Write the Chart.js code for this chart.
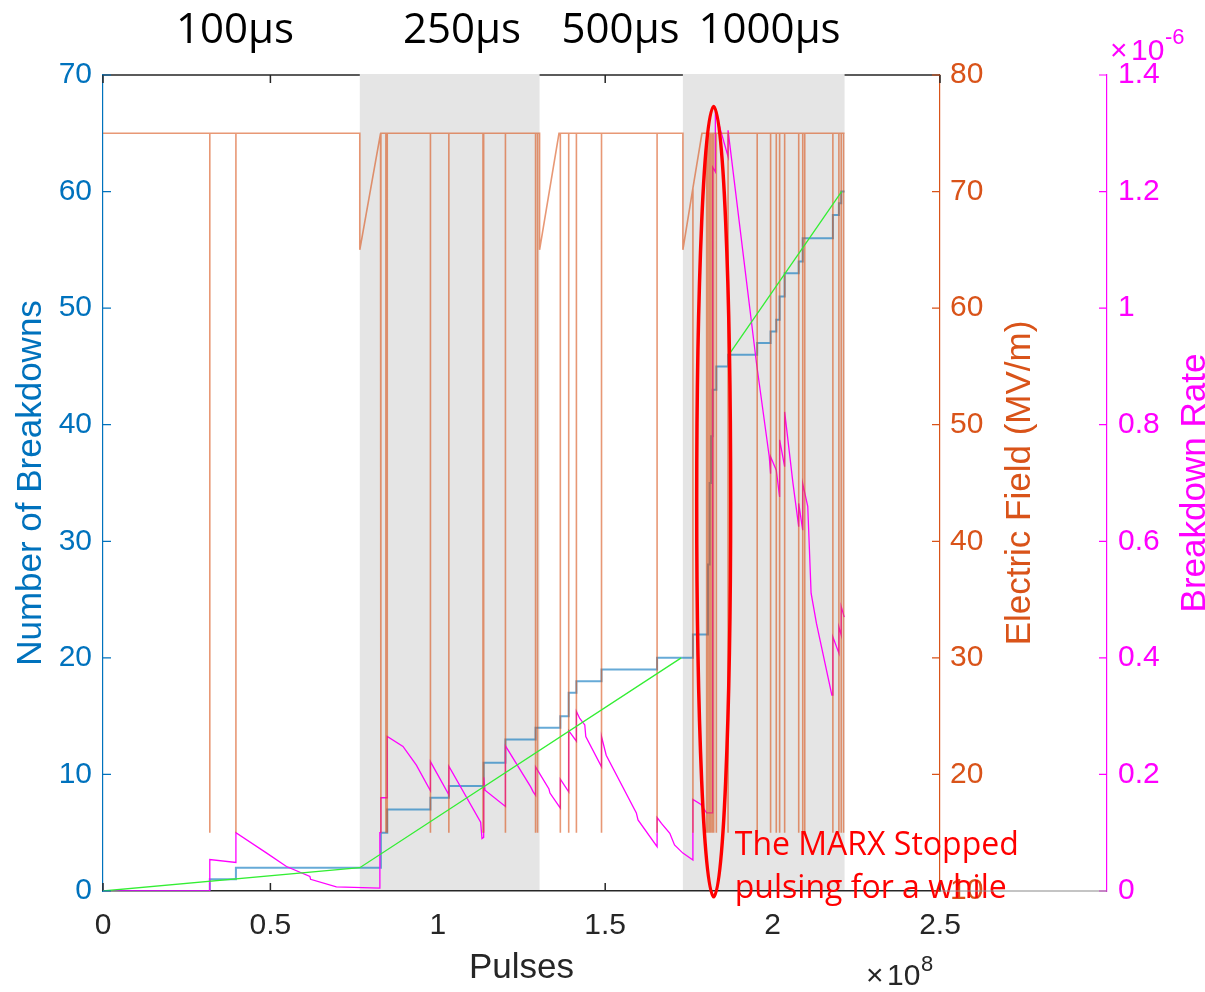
<!DOCTYPE html>
<html>
<head>
<meta charset="utf-8">
<script src="https://cdn.jsdelivr.net/npm/chart.js@4"></script>
<style>
  html, body { margin: 0; padding: 0; background: #fff; }
  canvas { display: block; }
</style>
</head>
<body>
<canvas id="breakdownChart" width="1205" height="992"></canvas>
<script>
// pulses are in units of 1e8, breakdown rate in units of 1e-6
var regionLabels = ['100\u00b5s', '250\u00b5s', '500\u00b5s', '1000\u00b5s'];
var labelCenters = [0.394, 1.072, 1.546, 1.991];
var shadedSpans = [[0.767, 1.304], [1.732, 2.215]];

// cumulative number of breakdowns (stairs)
var countPulses = [0, 0.319, 0.397, 0.830, 0.849, 0.978, 1.033, 1.137, 1.202, 1.292,
    1.366, 1.391, 1.414, 1.489, 1.655, 1.762, 1.807, 1.812, 1.816, 1.821,
    1.832, 1.867, 1.954, 1.994, 2.011, 2.021, 2.036, 2.078, 2.090, 2.180,
    2.198, 2.205, 2.215];
var breakdowns = [0, 1, 2, 5, 7, 8, 9, 11, 13, 14,
    15, 17, 18, 19, 20, 22, 28, 35, 39, 43,
    45, 46, 47, 48, 49, 51, 53, 54, 56, 58,
    59, 60, 60];

// green reference line (gap while the MARX was stopped)
var trendPulses = [0, 0.767, 1.727, 1.800, 1.869, 2.206];
var trendCount = [0, 2, 20, null, 46, 60];

// electric field: nominal level, ramps after each pulse length change, and breakdown drops
var fieldPulses = [0, 0.767, 0.767, 0.829, 1.304, 1.304, 1.362, 1.732, 1.732, 1.762, 1.789, 2.215];
var fieldLevel = [75, 75, 65, 75, 75, 65, 75, 75, 65, 70.3, 75, 75];
var sparkPulses = [0.319, 0.397, 0.830, 0.845, 0.849, 0.978, 1.033, 1.135, 1.137, 1.202,
    1.292, 1.298, 1.366, 1.391, 1.414, 1.489, 1.655, 1.762, 1.803, 1.807,
    1.812, 1.816, 1.821, 1.824, 1.832, 1.867, 1.954, 1.994, 2.011, 2.021,
    2.036, 2.078, 2.090, 2.096, 2.180, 2.198, 2.205, 2.212];
var sparkFloor = 15;

// breakdown rate
var ratePulses = [0, 0.319, 0.319, 0.397, 0.397, 0.489, 0.548, 0.618, 0.620, 0.697,
    0.827, 0.827, 0.830, 0.830, 0.849, 0.849, 0.896, 0.936, 0.978, 0.978,
    1.033, 1.033, 1.128, 1.132, 1.137, 1.137, 1.141, 1.202, 1.202, 1.277,
    1.285, 1.292, 1.292, 1.332, 1.335, 1.366, 1.366, 1.391, 1.391, 1.414,
    1.414, 1.424, 1.439, 1.442, 1.489, 1.489, 1.503, 1.593, 1.598, 1.655,
    1.655, 1.668, 1.693, 1.707, 1.732, 1.762, 1.762, 1.785, 1.803, 1.821,
    1.821, 1.829, 1.829, 1.867, 1.867, 1.952, 1.990, 1.994, 1.994, 2.011,
    2.021, 2.021, 2.036, 2.036, 2.061, 2.078, 2.078, 2.090, 2.090, 2.105,
    2.115, 2.131, 2.177, 2.180, 2.180, 2.198, 2.198, 2.205, 2.205, 2.214];
var rateValues = [0, 0, 0.054, 0.049, 0.100, 0.065, 0.042, 0.025, 0.020, 0.007,
    0.005, 0.100, 0.100, 0.160, 0.160, 0.265, 0.248, 0.216, 0.172, 0.222,
    0.165, 0.214, 0.118, 0.090, 0.092, 0.195, 0.173, 0.145, 0.249, 0.179,
    0.170, 0.164, 0.213, 0.175, 0.168, 0.142, 0.192, 0.170, 0.275, 0.257,
    0.308, 0.296, 0.285, 0.265, 0.213, 0.265, 0.233, 0.134, 0.122, 0.076,
    0.126, 0.116, 0.099, 0.079, 0.065, 0.053, 0.157, 0.149, 0.134, 0.134,
    1.242, 1.234, 1.337, 1.260, 1.305, 0.905, 0.745, 0.716, 0.745, 0.722,
    0.676, 0.774, 0.728, 0.822, 0.699, 0.625, 0.665, 0.619, 0.699, 0.660,
    0.511, 0.459, 0.336, 0.336, 0.436, 0.408, 0.453, 0.439, 0.488, 0.470];

var BLUE = '#0072BD', ORANGE = '#D95319', MAGENTA = '#FF00FF', INK = '#262626';
var AXIS_FONT = 'Liberation Sans, Arial, sans-serif';

function toPoints(xs, ys) {
    return xs.map(function (x, i) { return { x: x, y: ys[i] }; });
}

function fieldPoints() {
    var pts = [];
    var i = 0, j = 0, level = fieldLevel[0];
    while (i < fieldPulses.length || j < sparkPulses.length) {
        if (j >= sparkPulses.length || (i < fieldPulses.length && fieldPulses[i] <= sparkPulses[j])) {
            level = fieldLevel[i];
            pts.push({ x: fieldPulses[i], y: level });
            i++;
        } else {
            var x = sparkPulses[j++];
            pts.push({ x: x, y: level }, { x: x, y: sparkFloor }, { x: x, y: level });
        }
    }
    return pts;
}

// matlab style tick text: 1 rather than 1.0
function plainTick(v) {
    return String(Math.round(v * 100) / 100);
}

var decorations = {
    id: 'decorations',
    beforeDatasetsDraw: function (chart) {
        var ctx = chart.ctx, a = chart.chartArea, x = chart.scales.x;
        ctx.save();
        ctx.strokeStyle = INK;
        ctx.lineWidth = 1.5;
        ctx.beginPath();
        ctx.moveTo(a.left, a.top);
        ctx.lineTo(a.right, a.top);
        x.ticks.forEach(function (t) {
            var px = x.getPixelForValue(t.value);
            ctx.moveTo(px, a.top); ctx.lineTo(px, a.top + 8);
            ctx.moveTo(px, a.bottom); ctx.lineTo(px, a.bottom - 8);
        });
        ctx.stroke();
        ctx.fillStyle = '#E5E5E5';
        shadedSpans.forEach(function (s) {
            var l = x.getPixelForValue(s[0]), r = x.getPixelForValue(s[1]);
            ctx.fillRect(l, a.top - 1, r - l, a.bottom - a.top);
        });
        ctx.restore();
    },
    afterDatasetsDraw: function (chart) {
        var ctx = chart.ctx, a = chart.chartArea, s = chart.scales;
        ctx.save();
        // inward ticks on the y axes
        [['y', BLUE, 1], ['y2', ORANGE, -1]].forEach(function (d) {
            var sc = s[d[0]], x0 = d[2] > 0 ? a.left : a.right;
            ctx.strokeStyle = d[1];
            ctx.lineWidth = 1.2;
            ctx.beginPath();
            sc.ticks.forEach(function (t) {
                var py = sc.getPixelForValue(t.value);
                ctx.moveTo(x0, py); ctx.lineTo(x0 + 8 * d[2], py);
            });
            ctx.stroke();
        });
        var y3 = s.y3;
        ctx.strokeStyle = MAGENTA;
        ctx.beginPath();
        y3.ticks.forEach(function (t) {
            var py = y3.getPixelForValue(t.value);
            ctx.moveTo(y3.left, py); ctx.lineTo(y3.left - 8, py);
        });
        ctx.stroke();

        // red ellipse around the stop
        var cx = s.x.getPixelForValue(1.824), cy = s.y.getPixelForValue(33.4);
        var rx = s.x.getPixelForValue(1.824 + 0.0507) - cx;
        var ry = cy - s.y.getPixelForValue(33.4 + 33.9);
        ctx.strokeStyle = '#FF0000';
        ctx.lineWidth = 3.5;
        ctx.beginPath();
        ctx.ellipse(cx, cy, rx, ry, 0, 0, Math.PI * 2);
        ctx.stroke();

        ctx.fillStyle = '#FF0000';
        ctx.font = '32px "Open Sans", sans-serif';
        ctx.textAlign = 'left';
        ctx.textBaseline = 'alphabetic';
        var tx = s.x.getPixelForValue(1.887);
        ctx.fillText('The MARX Stopped', tx, 855);
        ctx.fillText('pulsing for a while', tx, 898);
        ctx.restore();
    },
    afterDraw: function (chart) {
        var ctx = chart.ctx, a = chart.chartArea, s = chart.scales;
        ctx.save();
        // grey continuation of the bottom line under the rate axis
        ctx.strokeStyle = '#8a8a8a';
        ctx.lineWidth = 1.2;
        ctx.beginPath();
        ctx.moveTo(a.right, a.bottom);
        ctx.lineTo(s.y3.left, a.bottom);
        ctx.stroke();

        ctx.fillStyle = '#000';
        ctx.font = '42px "Open Sans", sans-serif';
        ctx.textAlign = 'center';
        ctx.textBaseline = 'alphabetic';
        regionLabels.forEach(function (t, i) {
            ctx.fillText(t, s.x.getPixelForValue(labelCenters[i]), 43);
        });

        // right axis titles read bottom to top
        ctx.font = '35px ' + AXIS_FONT;
        [['Electric Field (MV/m)', ORANGE, 1030], ['Breakdown Rate', MAGENTA, 1205]].forEach(function (d) {
            ctx.save();
            ctx.translate(d[2], (a.top + a.bottom) / 2);
            ctx.rotate(-Math.PI / 2);
            ctx.fillStyle = d[1];
            ctx.fillText(d[0], 0, 0);
            ctx.restore();
        });

        // exponent labels
        ctx.textAlign = 'left';
        [[INK, 866, 985, '8', 971], [MAGENTA, 1110, 60, '-6', 44]].forEach(function (d) {
            ctx.fillStyle = d[0];
            ctx.font = '30px ' + AXIS_FONT;
            ctx.fillText('\u00d7', d[1], d[2]);
            ctx.fillText('10', d[1] + 21, d[2]);
            ctx.font = '22px ' + AXIS_FONT;
            ctx.fillText(d[3], d[1] + 55, d[4]);
        });
        ctx.restore();
    }
};

var ctx = document.getElementById('breakdownChart').getContext('2d');
var chart = new Chart(ctx, {
    type: 'line',
    data: {
        datasets: [{
            label: 'Trend',
            data: toPoints(trendPulses, trendCount),
            yAxisID: 'y',
            borderColor: '#33EE33',
            borderWidth: 1.3,
            spanGaps: false,
            order: 0
        }, {
            label: 'Electric Field',
            data: fieldPoints(),
            yAxisID: 'y2',
            borderColor: 'rgba(217, 83, 25, 0.6)',
            borderWidth: 1.6,
            order: 1
        }, {
            label: 'Breakdown Rate',
            data: toPoints(ratePulses, rateValues),
            yAxisID: 'y3',
            borderColor: MAGENTA,
            borderWidth: 1.3,
            order: 2
        }, {
            label: 'Number of Breakdowns',
            data: toPoints(countPulses, breakdowns),
            yAxisID: 'y',
            borderColor: 'rgba(0, 114, 189, 0.6)',
            borderWidth: 2,
            stepped: 'before',
            order: 3
        }]
    },
    options: {
        responsive: false,
        animation: false,
        layout: { padding: { top: 75 } },
        elements: { point: { radius: 0 }, line: { tension: 0 } },
        plugins: { legend: { display: false }, tooltip: { enabled: false } },
        scales: {
            x: {
                type: 'linear', min: 0, max: 2.5, z: 1,
                grid: { drawOnChartArea: false, drawTicks: false },
                border: { color: INK, width: 1.5 },
                ticks: { stepSize: 0.5, color: INK, padding: 17, callback: plainTick, font: { family: AXIS_FONT, size: 30 } },
                title: { display: true, text: 'Pulses', color: INK, padding: { top: 0, bottom: 3 }, font: { family: AXIS_FONT, size: 35 } },
                afterFit: function (sc) { sc.height = 101; }
            },
            y: {
                position: 'left', min: 0, max: 70,
                grid: { drawOnChartArea: false, drawTicks: false },
                border: { color: BLUE, width: 1.2 },
                ticks: { stepSize: 10, color: BLUE, padding: 11, font: { family: AXIS_FONT, size: 30 } },
                title: { display: true, text: 'Number of Breakdowns', color: BLUE, padding: { top: 10, bottom: 0 }, font: { family: AXIS_FONT, size: 35 } },
                afterFit: function (sc) { sc.width = 103; }
            },
            y2: {
                position: 'right', min: 10, max: 80, weight: 0, z: 1,
                grid: { drawOnChartArea: false, drawTicks: false },
                border: { color: ORANGE, width: 1.2 },
                ticks: { stepSize: 10, color: ORANGE, padding: 10, font: { family: AXIS_FONT, size: 30 } },
                afterFit: function (sc) { sc.width = 167; }
            },
            y3: {
                position: 'right', min: 0, max: 1.4, weight: 1,
                grid: { drawOnChartArea: false, drawTicks: false },
                border: { color: MAGENTA, width: 1.2 },
                ticks: { stepSize: 0.2, color: MAGENTA, padding: 11, callback: plainTick, font: { family: AXIS_FONT, size: 30 } },
                afterFit: function (sc) { sc.width = 98; }
            }
        }
    },
    plugins: [decorations]
});
</script>
</body>
</html>
